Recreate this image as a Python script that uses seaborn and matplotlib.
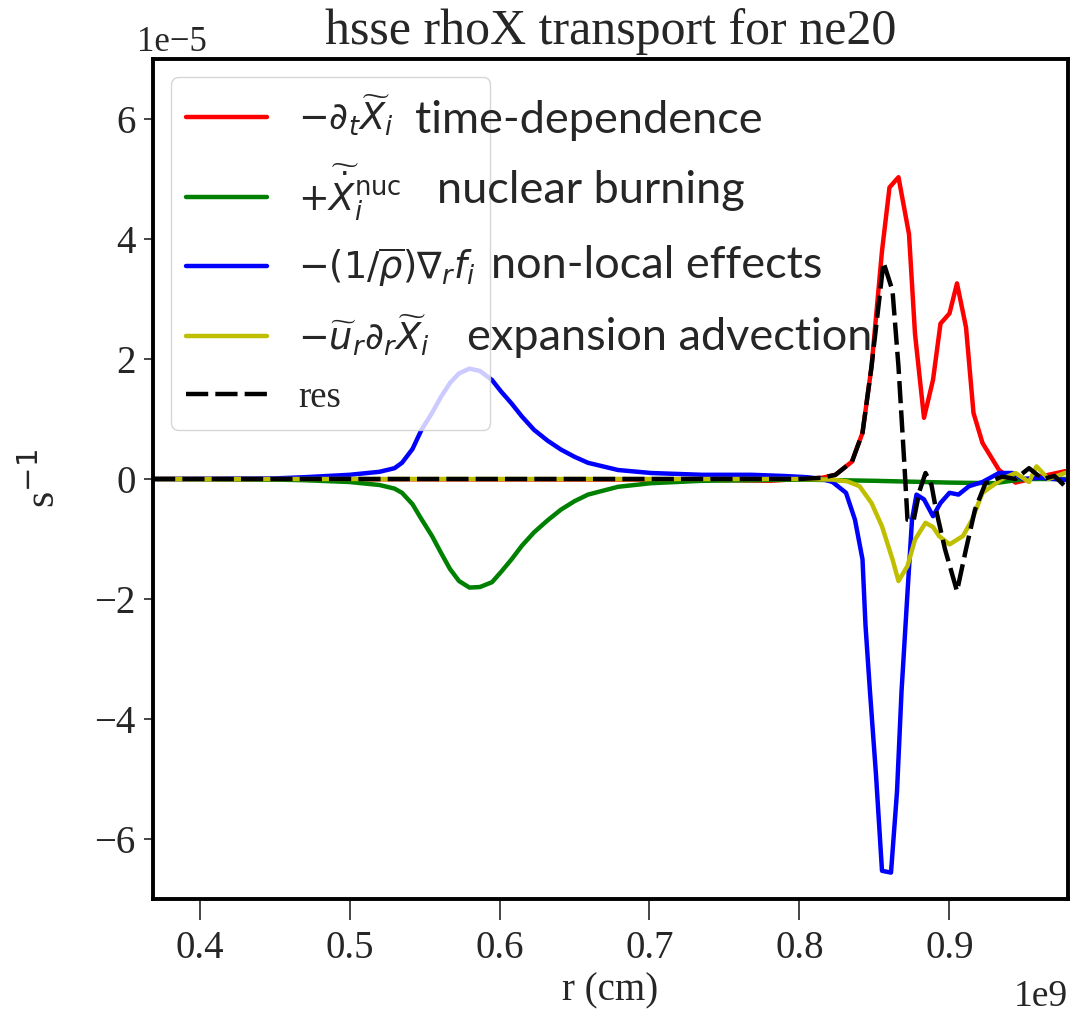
import numpy as np
import pandas as pd
import matplotlib
matplotlib.use('Agg')
import matplotlib.pyplot as plt
from matplotlib.ticker import ScalarFormatter
import seaborn as sns

# radius in units of 1e9 cm, terms in units of 1e-5 s^-1
r_time = [0.369, 0.73, 0.78, 0.80, 0.815, 0.824, 0.835, 0.842, 0.848, 0.855, 0.860,
          0.866, 0.873, 0.877, 0.883, 0.889, 0.894, 0.900, 0.905, 0.911, 0.916,
          0.922, 0.933, 0.944, 0.957, 0.977, 0.979]
time_dep = [0.0, -0.01, -0.03, 0.0, 0.02, 0.07, 0.29, 0.77, 1.87, 3.80, 4.86,
            5.03, 4.08, 2.42, 1.02, 1.65, 2.59, 2.76, 3.26, 2.53, 1.10,
            0.60, 0.15, -0.06, 0.02, 0.13, 0.13]

r_nuc = [0.369, 0.45, 0.47, 0.50, 0.52, 0.53, 0.535, 0.542, 0.548, 0.555, 0.561,
         0.567, 0.573, 0.580, 0.587, 0.595, 0.601, 0.608, 0.615, 0.623, 0.632,
         0.641, 0.650, 0.659, 0.679, 0.701, 0.735, 0.768, 0.80, 0.85, 0.90,
         0.93, 0.95, 0.979]
nuc_burn = [0.0, -0.01, -0.02, -0.05, -0.10, -0.16, -0.23, -0.42, -0.67, -0.95, -1.23,
            -1.50, -1.70, -1.81, -1.80, -1.72, -1.55, -1.34, -1.11, -0.89, -0.69,
            -0.51, -0.37, -0.26, -0.13, -0.07, -0.03, -0.02, -0.01, -0.03, -0.06,
            -0.07, 0.0, 0.0]

r_flux = [0.369, 0.45, 0.47, 0.50, 0.52, 0.53, 0.535, 0.542, 0.548, 0.555, 0.561,
          0.567, 0.573, 0.580, 0.587, 0.595, 0.601, 0.608, 0.615, 0.623, 0.632,
          0.641, 0.650, 0.659, 0.679, 0.701, 0.735, 0.768, 0.79, 0.805, 0.815,
          0.822, 0.831, 0.837, 0.842, 0.844, 0.847, 0.851, 0.855, 0.861, 0.865,
          0.868, 0.872, 0.875, 0.878, 0.883, 0.889, 0.894, 0.900, 0.906, 0.913,
          0.922, 0.933, 0.942, 0.949, 0.96, 0.97, 0.979]
nonlocal_ = [0.0, 0.01, 0.03, 0.07, 0.12, 0.18, 0.27, 0.50, 0.82, 1.10, 1.37,
             1.60, 1.76, 1.84, 1.80, 1.65, 1.46, 1.26, 1.04, 0.82, 0.64,
             0.49, 0.37, 0.27, 0.15, 0.10, 0.07, 0.07, 0.05, 0.03, 0.0,
             -0.05, -0.23, -0.68, -1.34, -2.44, -3.55, -4.93, -6.53, -6.56, -5.21,
             -3.55, -1.89, -0.68, -0.26, -0.34, -0.62, -0.40, -0.23, -0.26, -0.12,
             -0.05, 0.10, 0.10, 0.0, 0.02, 0.0, -0.02]

r_adv = [0.369, 0.80, 0.822, 0.832, 0.840, 0.848, 0.855, 0.862, 0.866, 0.872, 0.877,
         0.884, 0.889, 0.893, 0.900, 0.909, 0.915, 0.922, 0.935, 0.944, 0.953,
         0.958, 0.966, 0.977, 0.979]
advection = [0.0, 0.0, -0.01, -0.04, -0.12, -0.40, -0.79, -1.34, -1.70, -1.45, -1.01,
             -0.73, -0.80, -0.95, -1.09, -0.95, -0.68, -0.23, 0.0, 0.10, -0.05,
             0.21, 0.0, 0.10, 0.10]

r_res = [0.369, 0.80, 0.815, 0.824, 0.835, 0.842, 0.848, 0.856, 0.862, 0.866, 0.870,
         0.872, 0.876, 0.880, 0.884, 0.888, 0.891, 0.897, 0.905, 0.911, 0.917,
         0.924, 0.935, 0.944, 0.953, 0.962, 0.970, 0.977, 0.979]
res = [0.0, 0.0, 0.02, 0.07, 0.29, 0.77, 1.87, 3.61, 3.14, 1.87, 0.21,
       -0.68, -0.70, -0.20, 0.10, -0.10, -0.51, -1.17, -1.87, -1.17, -0.51,
       -0.07, 0.04, 0.0, 0.18, 0.0, 0.05, -0.12, -0.20]

labels = [r'$-\partial_t\widetilde{X}_i$',
          r'$+\widetilde{\dot{X}}_i^{\rm nuc}$',
          r'$-(1/\overline{\rho})\nabla_r f_i$',
          r'$-\widetilde{u}_r\partial_r\widetilde{X}_i$',
          'res']
notes = ['time-dependence', 'nuclear burning', 'non-local effects', 'expansion advection']
note_pos = [(415, 133), (437, 203), (491, 278), (467, 350)]  # pixel positions (x, baseline)

sns.set_style('ticks')
plt.rcParams['font.family'] = 'serif'
plt.rcParams['font.serif'] = ['Liberation Serif', 'DejaVu Serif']
plt.rcParams['mathtext.fontset'] = 'dejavusans'
plt.rcParams['axes.formatter.use_mathtext'] = False

W, H = 1084, 1018
fig, ax = plt.subplots(figsize=(W / 100, H / 100), dpi=100)
fig.subplots_adjust(left=153 / W, right=1068 / W, bottom=1 - 899 / H, top=1 - 59 / H)

series = [(r_time, time_dep, 'r'), (r_nuc, nuc_burn, 'g'), (r_flux, nonlocal_, 'b'),
          (r_adv, advection, 'y'), (r_res, res, 'k')]
for (xs, ys, c), lab in zip(series, labels):
    d = pd.DataFrame({'r': np.array(xs) * 1e9, 'v': np.array(ys) * 1e-5})
    sns.lineplot(data=d, x='r', y='v', color=c, lw=3.2, label=lab, ax=ax,
                 estimator=None, sort=False,
                 linestyle='--' if c == 'k' else '-')
ax.lines[-1].set_dashes((5, 1.6))

ax.set_xlim(0.369e9, 0.979e9)
ax.set_ylim(-7e-5, 7e-5)
ax.set_xticks(np.arange(0.4, 0.95, 0.1) * 1e9)
ax.set_yticks(np.arange(-6, 7, 2) * 1e-5)

xfmt = ScalarFormatter(useMathText=False)
xfmt.set_powerlimits((9, 9))
ax.xaxis.set_major_formatter(xfmt)
yfmt = ScalarFormatter(useMathText=False)
yfmt.set_powerlimits((-5, -5))
ax.yaxis.set_major_formatter(yfmt)

ax.set_xlabel('r (cm)', fontsize=28, labelpad=4)
ax.set_ylabel(r's$^{-1}$', fontsize=30, labelpad=22)
ax.set_title('hsse rhoX transport for ne20', fontsize=36, pad=11)
ax.tick_params(axis='x', labelsize=28, length=15, width=1.2, pad=7, labelfontfamily='serif')
ax.tick_params(axis='y', labelsize=28, length=6.5, width=1.2, pad=6, labelfontfamily='serif')

# offset labels ("1e-5", "1e9")
ax.xaxis.get_offset_text().set_fontsize(27)
ax.yaxis.get_offset_text().set_fontsize(25)
ax.yaxis.get_offset_text().set_x(-0.017)
ax.xaxis.OFFSETTEXTPAD = 9
ax.yaxis.OFFSETTEXTPAD = 6

for s in ax.spines.values():
    s.set_visible(True)
    s.set_linewidth(2.8)
    s.set_color('black')

leg = ax.legend(loc='upper left', fontsize=26.5, handlelength=2.2, handletextpad=0.85,
                borderpad=0.4, labelspacing=0.62, frameon=True, framealpha=0.8)
leg.get_frame().set_linewidth(1.0)

for txt, (px, py) in zip(notes, note_pos):
    fig.text(px / W, 1 - py / H, txt, family=['Lato', 'DejaVu Sans'], fontsize=32.5,
             va='baseline', ha='left', zorder=10)

fig.savefig('out.png', dpi=100)
